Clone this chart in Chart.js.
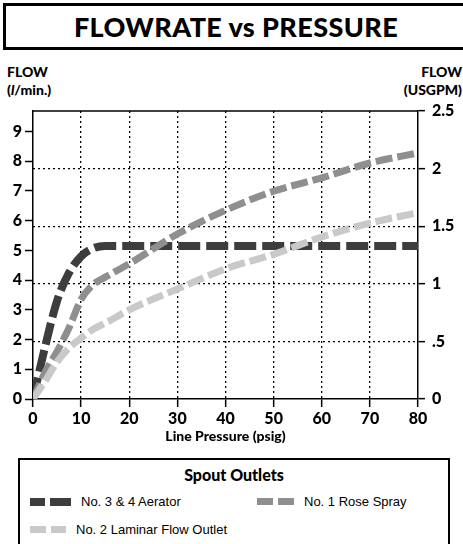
<!DOCTYPE html>
<html>
<head>
<meta charset="utf-8">
<script src="https://cdn.jsdelivr.net/npm/chart.js@4"></script>
<style>
    html, body { margin: 0; padding: 0; width: 463px; height: 544px; overflow: hidden; background: #fff; }
    body { position: relative; font-family: "Lato", sans-serif; }
    .title-box { position: absolute; left: 3px; top: 3px; width: 460px; height: 47px; box-sizing: border-box; border: 3px solid #000; border-right: none; }
    .title-box h1 { margin: 0; padding-left: 3px; text-align: center; font-size: 27px; font-weight: 900; line-height: 41px; letter-spacing: 0.4px; white-space: nowrap; }
    .unit { position: absolute; font-weight: 900; font-size: 14px; line-height: 18px; white-space: nowrap; }
    #chartWrap { position: absolute; left: 0; top: 0; width: 463px; height: 450px; }
    .legend-box { position: absolute; left: 18px; top: 458px; width: 432px; height: 86px; box-sizing: border-box; border: 2.5px solid #000; border-bottom: none; }
    .legend-title { position: absolute; left: 0; width: 100%; top: 5px; text-align: center; font-weight: 900; font-size: 16px; }
    .legend-item { position: absolute; font-family: "Liberation Sans", Arial, sans-serif; font-size: 13px; display: flex; align-items: center; white-space: nowrap; }
    .sw { margin-right: 5px; }
</style>
</head>
<body>
<div class="title-box"><h1>FLOWRATE vs PRESSURE</h1></div>
<div class="unit" style="left:7px; top:63px;">FLOW<br>(<i>l</i>/min.)</div>
<div class="unit" style="right:1px; top:63px; text-align:right;">FLOW<br>(USGPM)</div>
<div id="chartWrap"><canvas id="flowChart" width="463" height="450"></canvas></div>
<div class="legend-box">
    <div class="legend-title">Spout Outlets</div>
    <div id="legendItems"></div>
</div>

<script>
const pressure = [0, 2.5, 5, 7.5, 10, 12.5, 15, 20, 30, 40, 50, 60, 70, 80];
const aerator  = [0, 1.75, 3.3, 4.25, 4.8, 5.07, 5.15, 5.15, 5.15, 5.15, 5.15, 5.15, 5.15, 5.15];
const rose     = [0, 0.9, 1.6, 2.4, 3.35, 3.85, 4.1, 4.55, 5.55, 6.35, 6.99, 7.44, 7.94, 8.28];
const laminar  = [0, 0.6, 1.25, 1.72, 2.05, 2.35, 2.55, 3.0, 3.7, 4.38, 4.87, 5.45, 5.92, 6.27];

const seriesNames  = ["No. 3 & 4 Aerator", "No. 1 Rose Spray", "No. 2 Laminar Flow Outlet"];
const seriesColors = ["#3d3d3d", "#8f8f8f", "#c9c9c9"];

const lpmTicks   = [0, 1, 2, 3, 4, 5, 6, 7, 8, 9];
const gpmTicks   = [0, 0.5, 1, 1.5, 2, 2.5];
const gpmLabels  = ["0", ".5", "1", "1.5", "2", "2.5"];
const psiTicks   = [0, 10, 20, 30, 40, 50, 60, 70, 80];

const LPM_MAX = 9.69;   // left axis top, lines up with 2.5 USGPM on the right

const tickFont = { family: "Lato", size: 16, weight: "900" };

function toPoints(ys) {
    return pressure.map((x, i) => ({ x: x, y: ys[i] }));
}

// top edge of the plot frame
const frameTop = {
    id: "frameTop",
    beforeDatasetsDraw(chart) {
        const { ctx, chartArea } = chart;
        ctx.save();
        ctx.strokeStyle = "#000";
        ctx.lineWidth = 1.5;
        ctx.beginPath();
        ctx.moveTo(chartArea.left, chartArea.top);
        ctx.lineTo(chartArea.right, chartArea.top);
        ctx.stroke();
        ctx.restore();
    }
};

const dashes = [[22, 6], [17, 5], [17, 5]];
const widths = [8, 7, 7];
const data = [aerator, rose, laminar];

new Chart(document.getElementById("flowChart"), {
    type: "line",
    data: {
        datasets: data.map((ys, i) => ({
            label: seriesNames[i],
            data: toPoints(ys),
            yAxisID: "y",
            borderColor: seriesColors[i],
            borderWidth: widths[i],
            borderDash: dashes[i],
            borderCapStyle: "butt",
            pointRadius: 0,
            cubicInterpolationMode: "monotone",
            fill: false,
            order: 3 - i
        }))
    },
    options: {
        responsive: false,
        animation: false,
        layout: { padding: { top: 111, left: 0, right: 0, bottom: 0 } },
        plugins: { legend: { display: false }, tooltip: { enabled: false } },
        scales: {
            x: {
                type: "linear",
                min: 0, max: 80,
                afterBuildTicks: s => { s.ticks = psiTicks.map(v => ({ value: v })); },
                afterFit: s => { s.height = 51; },
                ticks: { color: "#000", font: tickFont, padding: 2, maxRotation: 0 },
                grid: {
                    color: c => (c.tick && (c.tick.value === 0 || c.tick.value === 80)) ? "rgba(0,0,0,0)" : "#000",
                    lineWidth: 1.3,
                    tickColor: "#000",
                    tickLength: 8,
                    tickWidth: 1.5,
                    tickBorderDash: []
                },
                border: { display: true, color: "#000", width: 1.5, dash: [2, 3] },
                title: { display: true, text: "Line Pressure (psig)", color: "#000", font: { family: "Lato", size: 14, weight: "900" }, padding: { top: 0, bottom: 5 } }
            },
            y: {
                position: "left",
                min: 0, max: LPM_MAX,
                afterBuildTicks: s => { s.ticks = lpmTicks.map(v => ({ value: v })); },
                afterFit: s => { s.width = 33; },
                ticks: { color: "#000", font: tickFont, padding: 3 },
                grid: { drawOnChartArea: false, tickColor: "#000", tickLength: 8, tickWidth: 1.5 },
                border: { display: true, color: "#000", width: 1.5 }
            },
            y2: {
                position: "right",
                min: 0, max: 2.5,
                afterBuildTicks: s => { s.ticks = gpmTicks.map(v => ({ value: v })); },
                afterFit: s => { s.width = 45; },
                ticks: {
                    color: "#000", font: tickFont, padding: 7,
                    callback: v => gpmLabels[gpmTicks.indexOf(v)]
                },
                grid: {
                    color: c => (c.tick && (c.tick.value === 0 || c.tick.value === 2.5)) ? "rgba(0,0,0,0)" : "#000",
                    lineWidth: 1.3,
                    tickColor: "#000",
                    tickLength: 7,
                    tickWidth: 1.5,
                    tickBorderDash: []
                },
                border: { display: true, color: "#000", width: 1.5, dash: [2, 3] }
            }
        }
    },
    plugins: [frameTop]
});

// ── HTML legend ──
const legendPos = [{ left: 10, top: 34 }, { left: 237, top: 34 }, { left: 10, top: 62 }];
const swatchSizes = [[15, 21], [16, 16], [16, 15]];
const legendItems = document.getElementById("legendItems");
seriesNames.forEach((name, i) => {
    const item = document.createElement("div");
    item.className = "legend-item";
    item.style.left = legendPos[i].left + "px";
    item.style.top = legendPos[i].top + "px";
    const h = i === 0 ? 8 : 7;
    item.innerHTML = swatchSizes[i].map(w =>
        `<div class="sw" style="width:${w}px;height:${h}px;background:${seriesColors[i]}"></div>`).join("") +
        `<span style="margin-left:5px">${name}</span>`;
    legendItems.appendChild(item);
});
</script>
</body>
</html>
